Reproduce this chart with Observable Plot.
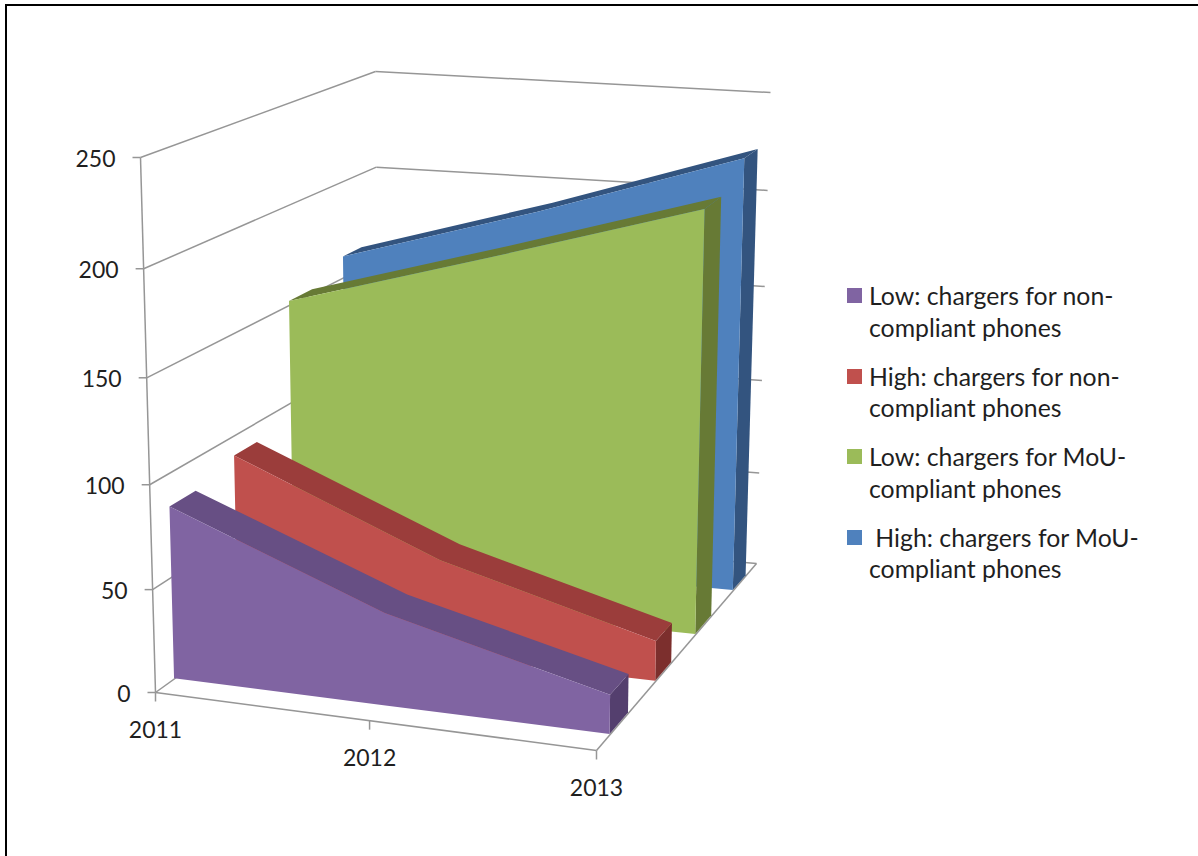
<!DOCTYPE html>
<html>
<head>
<meta charset="utf-8">
<script src="https://cdn.jsdelivr.net/npm/d3@7"></script>
<script src="https://cdn.jsdelivr.net/npm/@observablehq/plot@0.6"></script>
<style>
  html, body { margin: 0; background: #fff; }
  #page { position: relative; width: 1198px; height: 856px; overflow: hidden; font-family: Lato, sans-serif; }
  #frame { position: absolute; left: 5px; top: 4px; right: -4px; bottom: -4px; border: 2px solid #000; }
  #legend { position: absolute; left: 847px; top: 280px; color: #1f1f1f; font-size: 24.8px; line-height: 31.5px; }
  .entry { position: relative; padding-left: 22px; height: 63px; margin-bottom: 17.5px; white-space: pre; }
  .swatch { position: absolute; left: 0; top: 8px; width: 15px; height: 15px; }
</style>
</head>
<body>
<div id="page">
  <div id="frame"></div>
  <div id="chart"></div>
  <div id="legend"></div>
</div>
<script>
// Annual charger volumes for four scenarios
const years = [2011, 2012, 2013];
const lowNonCompliant = [84, 45, 19];
const highNonCompliant = [90, 48.5, 20];
const lowMouCompliant = [152, 182, 214];
const highMouCompliant = [161, 191, 225];
const valueTicks = [0, 50, 100, 150, 200, 250];

const legendLines = [
  ["Low: chargers for non-", "compliant phones"],
  ["High: chargers for non-", "compliant phones"],
  ["Low: chargers for MoU-", "compliant phones"],
  [" High: chargers for MoU-", "compliant phones"]
];

// Per-series styling and slab placement along the depth axis (front to back)
const seriesStyle = [
  {values: lowNonCompliant, depth: [0.085, 0.2], front: "#8064a2", top: "#674f84", side: "#543f6e"},
  {values: highNonCompliant, depth: [0.37, 0.47], front: "#c0504d", top: "#9b3d3b", side: "#7c2f2d"},
  {values: lowMouCompliant, depth: [0.62, 0.72], front: "#9bbb59", top: "#677a35", side: "#677a35"},
  {values: highMouCompliant, depth: [0.855, 0.935], front: "#4f81bd", top: "#33547f", side: "#33547f"}
];

// Eight corners of the chart box on screen, indexed [year][depth][value]
const box = [
  [[[155, 692], [140, 157]], [[379, 531], [375, 71]]],
  [[[596, 750], [602, 202]], [[756, 563], [770, 92]]]
];
const foreshorten = (t, r) => t / (t + (1 - t) * r);
const mix = (a, b, t) => a + (b - a) * t;

// Box projection: year, depth fraction and value to screen position
function project(year, depth, value) {
  const u = foreshorten((year - years[0]) / (years[years.length - 1] - years[0]), 1.06);
  const v = foreshorten(value / 250, 1.05);
  const at = (i) => mix(
    mix(mix(box[0][0][0][i], box[0][0][1][i], v), mix(box[0][1][0][i], box[0][1][1][i], v), depth),
    mix(mix(box[1][0][0][i], box[1][0][1][i], v), mix(box[1][1][0][i], box[1][1][1][i], v), depth),
    u
  );
  return [at(0), at(1)];
}

// A ribbon between two projected polylines, drawn with the area mark
function ribbon(edgeA, edgeB, fill) {
  const rows = edgeA.map((a, i) => ({x1: a[0], y1: a[1], x2: edgeB[i][0], y2: edgeB[i][1]}));
  return Plot.area(rows, {x1: "x1", y1: "y1", x2: "x2", y2: "y2", fill, curve: "linear"});
}

function slab({values, depth: [d0, d1], front, top, side}) {
  const last = years.length - 1;
  const topFront = years.map((yr, i) => project(yr, d0, values[i]));
  const topBack = years.map((yr, i) => project(yr, d1, values[i]));
  const floorFront = years.map((yr) => project(yr, d0, 0));
  const sideTop = [project(years[last], d0, values[last]), project(years[last], d1, values[last])];
  const sideFloor = [project(years[last], d0, 0), project(years[last], d1, 0)];
  return [
    ribbon(sideTop, sideFloor, side),
    ribbon(topFront, topBack, top),
    ribbon(topFront, floorFront, front)
  ];
}

const gridColor = "#969696";
const first = years[0];
const final = years[years.length - 1];

// Wall gridlines: side wall and back wall for every value tick
const wallLines = valueTicks.flatMap((t) => {
  const a = project(first, 0, t), b = project(first, 1, t), c = project(final, 1, t);
  return [{x1: a[0], y1: a[1], x2: b[0], y2: b[1]}, {x1: b[0], y1: b[1], x2: c[0], y2: c[1]}];
});
const floorLines = [
  [project(first, 0, 0), project(final, 0, 0)],
  [project(final, 0, 0), project(final, 1, 0)],
  [project(first, 0, 0), project(first, 0, 250)]
].map(([a, b]) => ({x1: a[0], y1: a[1], x2: b[0], y2: b[1]}));

const valueRows = valueTicks.map((t) => {
  const p = project(first, 0, t);
  return {x: p[0], y: p[1], label: String(t)};
});
const yearRows = years.map((yr) => {
  const p = project(yr, 0, 0);
  return {x: p[0], y: p[1], label: String(yr)};
});

const link = (rows, dx1, dy1) => Plot.link(rows, {
  x1: "x", y1: "y", x2: (d) => d.x + dx1, y2: (d) => d.y + dy1, stroke: gridColor, strokeWidth: 1.5
});

const chart = Plot.plot({
  width: 1198,
  height: 856,
  margin: 0,
  style: {background: "transparent", fontFamily: "Lato, sans-serif"},
  x: {domain: [0, 1198], range: [0, 1198], axis: null},
  y: {domain: [0, 856], range: [0, 856], axis: null},
  marks: [
    Plot.link(wallLines, {x1: "x1", y1: "y1", x2: "x2", y2: "y2", stroke: gridColor, strokeWidth: 1.5}),
    Plot.link(floorLines, {x1: "x1", y1: "y1", x2: "x2", y2: "y2", stroke: gridColor, strokeWidth: 1.5}),
    link(valueRows, -8, 0),
    link(yearRows, 0, 9),
    ...seriesStyle.slice().reverse().flatMap(slab),
    Plot.text(valueRows, {x: "x", y: "y", text: "label", dx: -25, dy: 2, textAnchor: "end", fontSize: 23, fill: "#1f1f1f"}),
    Plot.text(yearRows, {x: "x", y: "y", text: "label", dy: 38, textAnchor: "middle", fontSize: 23, fill: "#1f1f1f"})
  ]
});
document.getElementById("chart").append(chart);

// Legend entries beside the plot
const legend = document.getElementById("legend");
seriesStyle.forEach((s, i) => {
  const entry = document.createElement("div");
  entry.className = "entry";
  const swatch = document.createElement("div");
  swatch.className = "swatch";
  swatch.style.background = s.front;
  entry.append(swatch, legendLines[i].join("\n"));
  legend.append(entry);
});
</script>
</body>
</html>
